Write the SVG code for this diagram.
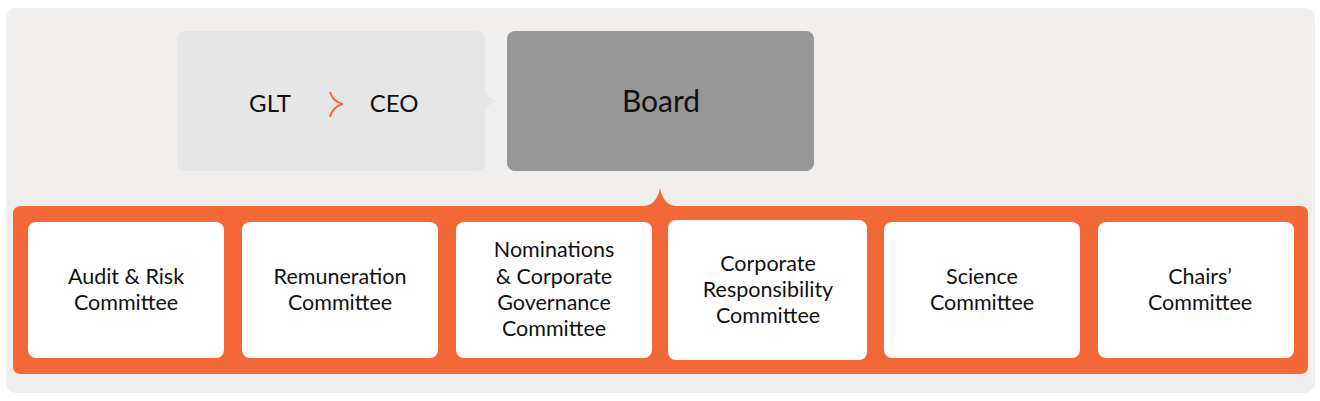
<svg xmlns="http://www.w3.org/2000/svg" width="1320" height="401" viewBox="0 0 1320 401">
<style>
.t{font-family:Lato,"Noto Sans","Liberation Sans",sans-serif;fill:#111;text-anchor:middle}
.c{font-size:21.5px}
.w{fill:#ffffff}
</style>
<rect x="6" y="8" width="1309" height="385" rx="10" fill="#f0efed"/>
<g id="glt-ceo">
<path d="M185,31 H477 Q485,31 485,39 V88 Q486,99 500,101 Q486,103 485,114 V163 Q485,171 477,171 H185 Q177,171 177,163 V39 Q177,31 185,31 Z" fill="#e6e6e6"/>
<text class="t" x="270" y="112" font-size="24">GLT</text>
<text class="t" x="394" y="112" font-size="24">CEO</text>
</g>
<g id="board">
<rect x="507" y="31" width="307" height="140" rx="8" fill="#979797"/>
<text class="t" x="661" y="112" font-size="30">Board</text>
</g>
<g id="connectors">
<path d="M330,92 Q333,102 343,104 Q333,106 330,117" fill="none" stroke="#f26836" stroke-width="2"/>
</g>
<g id="committees">
<path d="M21,206 H645 Q657,204 660,188 Q663,204 675,206 H1300 Q1308,206 1308,214 V366 Q1308,374 1300,374 H21 Q13,374 13,366 V214 Q13,206 21,206 Z" fill="#f26836"/>
<g id="audit">
<rect class="w" x="28" y="222" width="196" height="136" rx="8"/>
<text class="t c" x="126" y="284">Audit &amp; Risk</text>
<text class="t c" x="126" y="310">Committee</text>
</g>
<g id="remuneration">
<rect class="w" x="242" y="222" width="196" height="136" rx="8"/>
<text class="t c" x="340" y="284">Remuneration</text>
<text class="t c" x="340" y="310">Committee</text>
</g>
<g id="nominations">
<rect class="w" x="456" y="222" width="196" height="136" rx="8"/>
<text class="t c" x="554" y="257">Nominations</text>
<text class="t c" x="554" y="284">&amp; Corporate</text>
<text class="t c" x="554" y="310">Governance</text>
<text class="t c" x="554" y="336">Committee</text>
</g>
<g id="corporate-responsibility">
<rect class="w" x="668" y="220" width="199" height="140" rx="8"/>
<text class="t c" x="768" y="271">Corporate</text>
<text class="t c" x="768" y="297">Responsibility</text>
<text class="t c" x="768" y="323">Committee</text>
</g>
<g id="science">
<rect class="w" x="884" y="222" width="196" height="136" rx="8"/>
<text class="t c" x="982" y="284">Science</text>
<text class="t c" x="982" y="310">Committee</text>
</g>
<g id="chairs">
<rect class="w" x="1098" y="222" width="196" height="136" rx="8"/>
<text class="t c" x="1200" y="284">Chairs’</text>
<text class="t c" x="1200" y="310">Committee</text>
</g>
</g>
</svg>
